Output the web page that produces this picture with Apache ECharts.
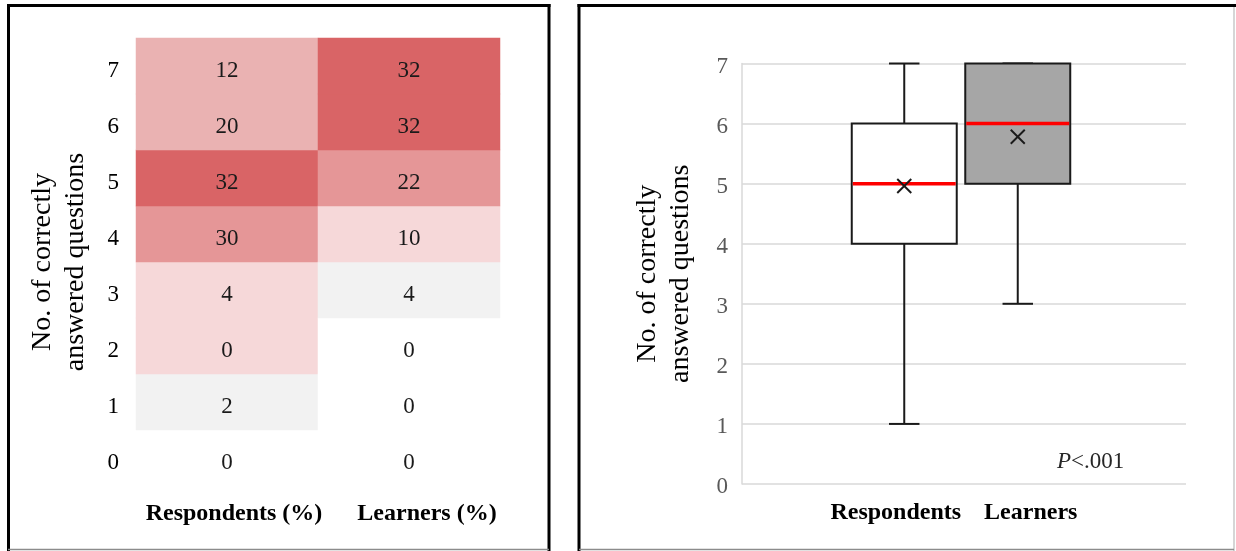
<!DOCTYPE html>
<html>
<head>
<meta charset="utf-8">
<script src="https://cdn.jsdelivr.net/npm/echarts@6/dist/echarts.min.js"></script>
<style>
  html, body { margin: 0; padding: 0; background: #fff; }
  #chart { width: 1236px; height: 551px; }
</style>
</head>
<body>
<div id="chart"></div>
<script>
// left panel: share of people per number of correct answers
const scoreLabels = ['0', '1', '2', '3', '4', '5', '6', '7'];
const groupLabels = ['Respondents (%)', 'Learners (%)'];
const respondentsPct = [0, 2, 0, 4, 30, 32, 20, 12];
const learnersPct = [0, 0, 0, 4, 10, 22, 32, 32];
// shade step of each cell (0 = white ... 5 = darkest red)
const respondentsShade = [0, 1, 2, 2, 4, 5, 3, 3];
const learnersShade = [0, 0, 0, 1, 2, 4, 5, 5];
const shadeColors = ['#ffffff', '#f2f2f2', '#f6d8d9', '#eab2b2', '#e59697', '#d96466'];

// right panel: box plot stats [min, q1, median, q3, max]
const boxGroups = ['Respondents', 'Learners'];
const boxStats = [[1, 4, 5, 6, 7], [3, 5, 6, 7, 7]];
const boxMeans = [4.96, 5.78];
const boxFills = ['#ffffff', '#a6a6a6'];
const yTicks = [0, 1, 2, 3, 4, 5, 6, 7];

const serif = "'Liberation Serif', 'Times New Roman', serif";

const heatData = [];
[respondentsPct, learnersPct].forEach((vals, g) => {
    const shades = g === 0 ? respondentsShade : learnersShade;
    vals.forEach((v, i) => heatData.push([g, i, v, shades[i]]));
});

const boxData = boxStats.map((s, i) => [i + 1, ...s, boxMeans[i]]);

function renderBox(params, api) {
    const x = api.value(0);
    const band = api.size([1, 0])[0];
    const bw = band * 0.925;
    const cap = bw * 0.29;
    const pMin = api.coord([x, api.value(1)]);
    const pQ1 = api.coord([x, api.value(2)]);
    const pMed = api.coord([x, api.value(3)]);
    const pQ3 = api.coord([x, api.value(4)]);
    const pMax = api.coord([x, api.value(5)]);
    const pMean = api.coord([x, api.value(6)]);
    const cx = pQ1[0];
    const line = { stroke: '#1a1a1a', lineWidth: 2 };
    const children = [
        { type: 'line', shape: { x1: cx, y1: pQ1[1], x2: cx, y2: pMin[1] }, style: line },
        { type: 'line', shape: { x1: cx, y1: pQ3[1], x2: cx, y2: pMax[1] }, style: line },
        { type: 'line', shape: { x1: cx - cap / 2, y1: pMin[1], x2: cx + cap / 2, y2: pMin[1] }, style: line },
        { type: 'line', shape: { x1: cx - cap / 2, y1: pMax[1], x2: cx + cap / 2, y2: pMax[1] }, style: line },
        {
            type: 'rect',
            shape: { x: cx - bw / 2, y: pQ3[1], width: bw, height: pQ1[1] - pQ3[1] },
            style: { fill: boxFills[params.dataIndex], stroke: '#1a1a1a', lineWidth: 2 }
        },
        { type: 'line', shape: { x1: cx - bw / 2 + 1, y1: pMed[1], x2: cx + bw / 2 - 1, y2: pMed[1] }, style: { stroke: '#ff0000', lineWidth: 3.5 } },
        { type: 'line', shape: { x1: pMean[0] - 7, y1: pMean[1] - 7, x2: pMean[0] + 7, y2: pMean[1] + 7 }, style: line },
        { type: 'line', shape: { x1: pMean[0] - 7, y1: pMean[1] + 7, x2: pMean[0] + 7, y2: pMean[1] - 7 }, style: line }
    ];
    return { type: 'group', children };
}

const boldLabel = { fontSize: 24, fontWeight: 'bold', color: '#000', fontFamily: serif };
const axisName = 'No. of correctly\nanswered questions';
const axisNameStyle = { fontSize: 28, color: '#000', lineHeight: 33, fontFamily: serif };

const chart = echarts.init(document.getElementById('chart'));
chart.setOption({
    animation: false,
    textStyle: { fontFamily: serif },
    grid: [
        { left: 136, right: 736, top: 38, bottom: 65 },
        { left: 742, right: 50, top: 63.5, bottom: 67 },
        { left: 734, right: 48, top: 63.5, bottom: 67 }
    ],
    xAxis: [
        {
            gridIndex: 0, type: 'category', data: groupLabels,
            axisLine: { show: false }, axisTick: { show: false }, splitLine: { show: false },
            axisLabel: {
                margin: 16, interval: 0, hideOverlap: false,
                formatter: v => v === groupLabels[0] ? '{a|' + v + '}' : '{b|' + v + '}',
                rich: {
                    a: Object.assign({ padding: [0, 0, 0, 14] }, boldLabel),
                    b: Object.assign({ padding: [0, 0, 0, 36] }, boldLabel)
                }
            }
        },
        { gridIndex: 1, type: 'category', data: ['a', 'b'], show: false },
        {
            gridIndex: 2, type: 'category', data: ['', ...boxGroups, ''],
            axisLine: { show: false }, axisTick: { show: false }, splitLine: { show: false },
            axisLabel: {
                margin: 17, interval: 0, hideOverlap: false,
                formatter: v => v === boxGroups[0] ? '{a|' + v + '}' : v === boxGroups[1] ? '{b|' + v + '}' : '',
                rich: {
                    a: Object.assign({ padding: [0, 17, 0, 0] }, boldLabel),
                    b: Object.assign({ padding: [0, 0, 0, 26] }, boldLabel)
                }
            }
        }
    ],
    yAxis: [
        {
            gridIndex: 0, type: 'category', data: scoreLabels,
            axisLine: { show: false }, axisTick: { show: false }, splitLine: { show: false },
            axisLabel: {
                margin: 17, formatter: v => '{v|' + v + '}',
                rich: { v: { fontSize: 23, color: '#000', fontFamily: serif, padding: [10, 0, 0, 0] } }
            },
            name: axisName, nameLocation: 'middle', nameRotate: 90, nameGap: 44,
            nameTextStyle: axisNameStyle
        },
        {
            gridIndex: 1, type: 'value', min: 0, max: 7, interval: 1,
            axisLine: { show: true, lineStyle: { color: '#d9d9d9', width: 1.5 } },
            axisTick: { show: false },
            splitLine: { lineStyle: { color: '#d9d9d9', width: 1.5 } },
            axisLabel: {
                margin: 14, customValues: yTicks, formatter: v => '{v|' + v + '}',
                rich: { v: { fontSize: 23, color: '#595959', fontFamily: serif, padding: [6, 0, 0, 0] } }
            },
            name: axisName, nameLocation: 'middle', nameRotate: 90, nameGap: 45,
            nameTextStyle: axisNameStyle
        },
        { gridIndex: 2, type: 'value', min: 0, max: 7, show: false }
    ],
    visualMap: {
        type: 'piecewise', show: false, seriesIndex: 0, dimension: 3,
        pieces: shadeColors.map((c, i) => ({ value: i, color: c }))
    },
    series: [
        {
            type: 'heatmap', xAxisIndex: 0, yAxisIndex: 0, data: heatData,
            label: { show: true, fontSize: 23, color: '#1a1a1a', fontFamily: serif, offset: [0, 5], formatter: p => p.value[2] },
            itemStyle: { borderWidth: 0 },
            emphasis: { disabled: true }
        },
        {
            type: 'custom', xAxisIndex: 2, yAxisIndex: 2, data: boxData,
            encode: { x: 0, y: [1, 2, 3, 4, 5, 6] },
            renderItem: renderBox
        }
    ],
    graphic: [
        { type: 'line', shape: { x1: 7, y1: 5.5, x2: 550.5, y2: 5.5 }, style: { stroke: '#000', lineWidth: 3 } },
        { type: 'line', shape: { x1: 8.5, y1: 4, x2: 8.5, y2: 551 }, style: { stroke: '#000', lineWidth: 3 } },
        { type: 'line', shape: { x1: 549, y1: 4, x2: 549, y2: 551 }, style: { stroke: '#000', lineWidth: 3 } },
        { type: 'line', shape: { x1: 8, y1: 549.5, x2: 549, y2: 549.5 }, style: { stroke: '#8c8c8c', lineWidth: 1.5 } },
        { type: 'line', shape: { x1: 577.5, y1: 5.5, x2: 1236, y2: 5.5 }, style: { stroke: '#000', lineWidth: 3 } },
        { type: 'line', shape: { x1: 579, y1: 4, x2: 579, y2: 551 }, style: { stroke: '#000', lineWidth: 3 } },
        { type: 'line', shape: { x1: 1234, y1: 7, x2: 1234, y2: 551 }, style: { stroke: '#c8c8c8', lineWidth: 1.5 } },
        { type: 'line', shape: { x1: 579, y1: 549.5, x2: 1234, y2: 549.5 }, style: { stroke: '#8c8c8c', lineWidth: 1.5 } },
        {
            type: 'text', left: 1057, top: 450,
            style: {
                text: '{i|P}{n|<.001}',
                rich: {
                    i: { fontSize: 23, fontStyle: 'italic', fontFamily: serif, fill: '#262626' },
                    n: { fontSize: 23, fontFamily: serif, fill: '#262626' }
                }
            }
        }
    ]
});
window.addEventListener('resize', () => chart.resize());
</script>
</body>
</html>
